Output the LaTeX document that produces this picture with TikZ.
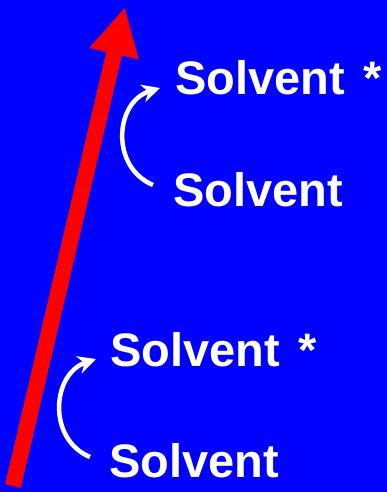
\documentclass[tikz,border=0pt]{standalone}
\usepackage{fontspec}
\setmainfont{Liberation Sans}
\usepackage{xcolor}
\usetikzlibrary{arrows.meta,calc}

\begin{document}
\begin{tikzpicture}[
  x=1pt, y=1pt,
  label/.style={text=white, font=\fontsize{47pt}{50pt}\selectfont\bfseries,
    inner sep=0pt, anchor=base west},
  excite/.style={draw=white, line width=4.5pt,
    -{Stealth[length=18pt, width=18pt]}},
  energy/.style={draw=energyred, line width=16pt,
    -{Triangle[length=48pt, width=47pt]}}
]

\definecolor{panelblue}{RGB}{0,0,255}
\definecolor{energyred}{RGB}{255,0,0}

\fill[panelblue] (0,0) rectangle (387,492);
\useasboundingbox (0,0) rectangle (387,492);

% energy axis
\coordinate (axisfoot) at (13,6);
\coordinate (axistip) at (125,485);
\draw[energy] (axisfoot) -- (axistip);

% upper pair
\node[label] (upperexc) at (175,397) {Solvent\hspace{5pt} *};
\node[label] (upperground) at (173,285) {Solvent};

% lower pair
\node[label] (lowerexc) at (110,125) {Solvent\hspace{5pt} *};
\node[label] (lowerground) at (109,14) {Solvent};

\draw[excite] ([shift={(-20,22)}]upperground.base west)
  .. controls +(-43,18) and +(-45,-14) .. ([shift={(-15,7)}]upperexc.base west);
\draw[excite] ([shift={(-19,21)}]lowerground.base west)
  .. controls +(-43,18) and +(-44,-15) .. ([shift={(-14,8)}]lowerexc.base west);

\end{tikzpicture}
\end{document}
